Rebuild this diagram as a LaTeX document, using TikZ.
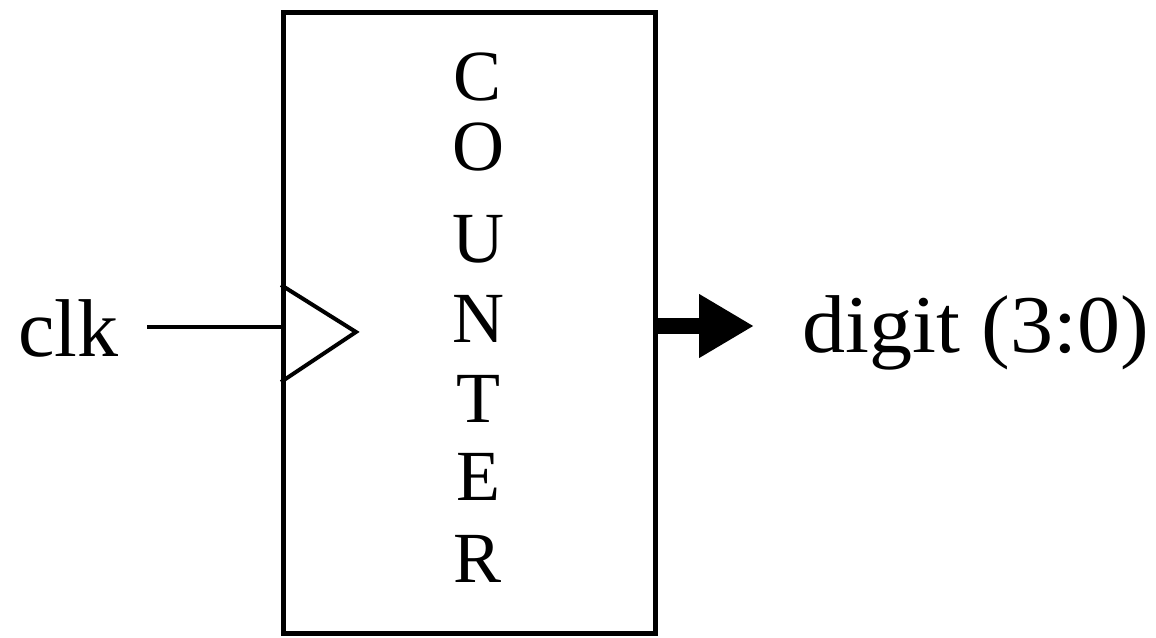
\documentclass[tikz,border=0pt]{standalone}
\usepackage{fontspec}
\setmainfont{Liberation Serif}
\newfontfamily\widefont[FakeStretch=1.05]{Liberation Serif}
\usetikzlibrary{arrows.meta}
\tikzset{
  wire/.style={line width=2pt, line cap=butt},
  boxline/.style={line width=2.6pt},
  bus/.style={line width=8pt, -{Triangle[length=27.5pt,width=30pt]}},
  lbl/.style={inner sep=0pt, font=\fontsize{41}{41}\selectfont},
  vlet/.style={inner sep=0pt, anchor=base, font=\fontsize{36}{36}\selectfont}
}
\begin{document}
\begin{tikzpicture}[x=0.5pt,y=-0.5pt]
\useasboundingbox (0,0) rectangle (1156,637);
% counter box
\node[boxline, draw, minimum width=186pt, minimum height=310.5pt, inner sep=0pt, anchor=north west] (box) at (281,10) {};
% vertical label
\node[vlet] (c1) at (478,100) {C};
\node[vlet] (c2) at (478,170) {O};
\node[vlet] (c3) at (478,262) {U};
\node[vlet] (c4) at (478,342) {N};
\node[vlet] (c5) at (478,422) {T};
\node[vlet] (c6) at (478,500) {E};
\node[vlet] (c7) at (478,582) {R};
% clock triangle
\coordinate (tribot) at (281,382);
\coordinate (tritop) at (281,285);
\coordinate (tritip) at (356,332);
\draw[wire, line join=miter] (tritop) -- (tritip) -- (tribot);
% clk input
\node[lbl, anchor=base west] (clk) at (18,356) {clk};
\coordinate (clkin) at (147,327);
\draw[wire] (clkin) -- (clkin -| box.west);
% output bus
\coordinate (dout) at (754,326);
\draw[bus] (dout -| box.east) -- (dout);
\node[lbl, anchor=base west, font=\fontsize{41}{41}\widefont] (digit) at (802,352) {digit (3:0)};
\end{tikzpicture}
\end{document}
